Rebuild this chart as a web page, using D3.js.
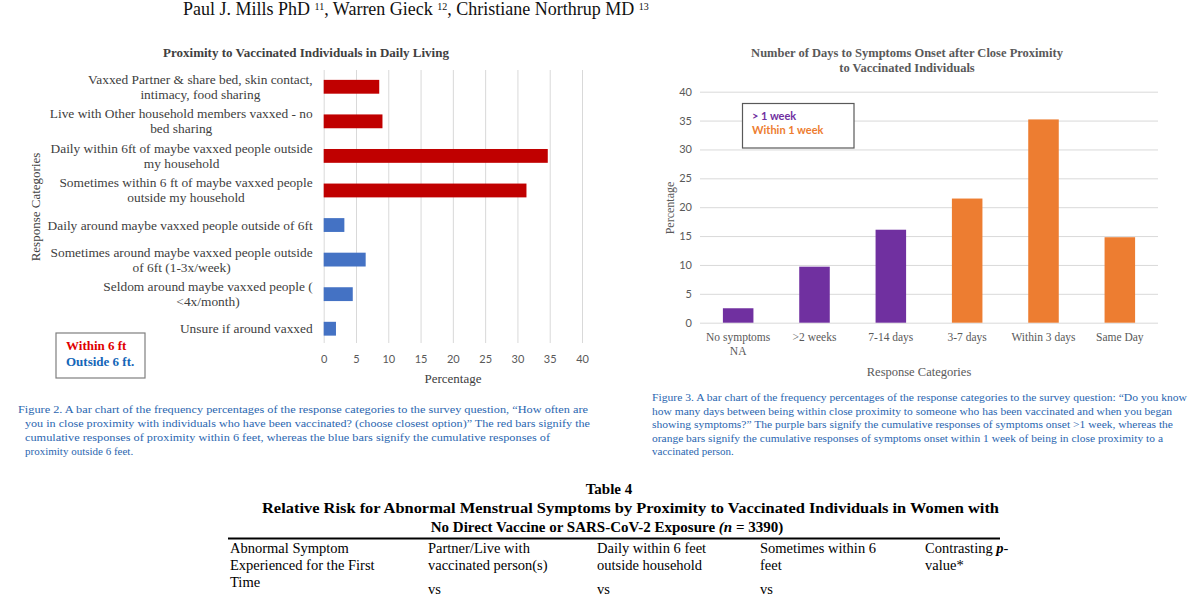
<!DOCTYPE html>
<html><head><meta charset="utf-8">
<script src="https://cdn.jsdelivr.net/npm/d3@7"></script>
<style>body{margin:0;background:#fff}svg{display:block}</style>
</head><body><svg id="c" width="1200" height="600"></svg>
<script>
// ---------- DATA ----------
const proxCategories = [
  "Vaxxed Partner & share bed, skin contact,\nintimacy, food sharing",
  "Live with Other household members vaxxed - no\nbed sharing",
  "Daily within 6ft of maybe vaxxed people outside\nmy household",
  "Sometimes within 6 ft of maybe vaxxed people\noutside my household",
  "Daily around maybe vaxxed people outside of 6ft",
  "Sometimes around maybe vaxxed people outside\nof 6ft (1-3x/week)",
  "Seldom around maybe vaxxed people (\n<4x/month)",
  "Unsure if around vaxxed"
];
const proxValues = [8.6, 9.1, 34.7, 31.4, 3.2, 6.5, 4.5, 1.9];
const proxGroups = ["within","within","within","within","outside","outside","outside","outside"];
const proxTicks = [0, 5, 10, 15, 20, 25, 30, 35, 40];

const onsetCategories = ["No symptoms\nNA", ">2 weeks", "7-14 days", "3-7 days", "Within 3 days", "Same Day"];
const onsetValues = [2.5, 9.7, 16.1, 21.5, 35.2, 14.8];
const onsetGroups = ["over","over","over","within","within","within"];
const onsetTicks = [0, 5, 10, 15, 20, 25, 30, 35, 40];

const fig2Caption = [
  "Figure 2. A bar chart of the frequency percentages of the response categories to the survey question, \u201CHow often are",
  "you in close proximity with individuals who have been vaccinated? (choose closest option)\u201D The red bars signify the",
  "cumulative responses of proximity within 6 feet, whereas the blue bars signify the cumulative responses of",
  "proximity outside 6 feet."
];
const fig3Caption = [
  "Figure 3. A bar chart of the frequency percentages of the response categories to the survey question: \u201CDo you know",
  "how many days between being within close proximity to someone who has been vaccinated and when you began",
  "showing symptoms?\u201D The purple bars signify the cumulative responses of symptoms onset >1 week, whereas the",
  "orange bars signify the cumulative responses of symptoms onset within 1 week of being in close proximity to a",
  "vaccinated person."
];
const tableHeaders = [
  ["Abnormal Symptom", "Experienced for the First", "Time"],
  ["Partner/Live with", "vaccinated person(s)"],
  ["Daily within 6 feet", "outside household"],
  ["Sometimes within 6", "feet"],
  ["Contrasting p-", "value*"]
];
const tableVs = ["", "vs", "vs", "vs", ""];

// ---------- STYLE ----------
const SERIF = "'Liberation Serif','DejaVu Serif',serif";
const SANS = "Lato,'Open Sans',sans-serif";
const grid = "#d9d9d9";
const capBlue = "#2a66b0";

const svg = d3.select("#c");
svg.append("rect").attr("width",1200).attr("height",600).attr("fill","#fff");

// ---------- author line ----------
const au = svg.append("text").attr("x",183).attr("y",15).attr("font-family",SERIF)
  .attr("font-size",18).attr("fill","#111");
["Paul J. Mills PhD ","11",", Warren Gieck ","12",", Christiane Northrup MD ","13"].forEach((p,i)=>{
  const t = au.append("tspan").text(p);
  if(i%2===1){ t.attr("font-size",10).attr("dy",-5); }
  else if(i>0){ t.attr("dy",5); }
});

// ---------- LEFT CHART ----------
const L = svg.append("g");
const xL = d3.scaleLinear().domain([0,40]).range([323.7,582]);
const yL = d3.scaleBand().domain(proxCategories).range([69.5,346]).paddingInner(0.6).paddingOuter(0.3);
const colorL = d3.scaleOrdinal().domain(["within","outside"]).range(["#c00000","#4472c4"]);

L.append("text").attr("x",306).attr("y",52).attr("text-anchor","middle").attr("dominant-baseline","central")
  .attr("font-family",SERIF).attr("font-weight","bold").attr("font-size",13).attr("fill","#404040")
  .text("Proximity to Vaccinated Individuals in Daily Living");

const axL = L.append("g").attr("transform","translate(0,343)")
  .call(d3.axisBottom(xL).tickValues(proxTicks).tickSize(-273).tickPadding(12));
axL.select(".domain").remove();
axL.selectAll(".tick line").attr("stroke",grid).attr("stroke-width",1);
axL.selectAll(".tick text").attr("font-family",SANS).attr("font-size",11).attr("fill","#595959");

L.selectAll("rect.bar").data(proxValues).join("rect").attr("class","bar")
  .attr("x",xL(0)).attr("y",(d,i)=>yL(proxCategories[i]))
  .attr("width",d=>xL(d)-xL(0)).attr("height",yL.bandwidth())
  .attr("fill",(d,i)=>colorL(proxGroups[i]));

L.selectAll("g.lab").data(proxCategories).join("g").attr("class","lab").each(function(d){
  const lines = d.split("\n");
  const cy = yL(d)+yL.bandwidth()/2;
  const sel = d3.select(this);
  const ts = lines.map((ln,j)=>sel.append("text")
    .attr("y",cy+(j-(lines.length-1)/2)*15).attr("dominant-baseline","central")
    .attr("text-anchor","middle").attr("font-family",SERIF).attr("font-size",13.4).attr("fill","#404040").text(ln));
  const maxW = d3.max(ts,t=>t.node().getComputedTextLength());
  ts.forEach(t=>t.attr("x",312.7-maxW/2));
});

L.append("text").attr("transform","translate(35,207) rotate(-90)").attr("text-anchor","middle")
  .attr("dominant-baseline","central").attr("font-family",SERIF).attr("font-size",13).attr("fill","#404040")
  .text("Response Categories");
L.append("text").attr("x",453).attr("y",378).attr("text-anchor","middle").attr("dominant-baseline","central")
  .attr("font-family",SERIF).attr("font-size",13).attr("fill","#404040").text("Percentage");

L.append("rect").attr("x",56).attr("y",333).attr("width",89).attr("height",45)
  .attr("fill","#fff").attr("stroke","#7f7f7f").attr("stroke-width",1.2);
L.append("text").attr("x",66).attr("y",345.5).attr("dominant-baseline","central").attr("font-family",SERIF)
  .attr("font-weight","bold").attr("font-size",13).attr("fill","#e00000").text("Within 6 ft");
L.append("text").attr("x",66).attr("y",361.5).attr("dominant-baseline","central").attr("font-family",SERIF)
  .attr("font-weight","bold").attr("font-size",13).attr("fill","#1466b8").text("Outside 6 ft.");

// ---------- RIGHT CHART ----------
const R = svg.append("g");
const xR = d3.scaleBand().domain(onsetCategories).range([700,1158]).paddingInner(0.6).paddingOuter(0.3);
const yR = d3.scaleLinear().domain([0,40]).range([322.7,91.7]);
const colorR = d3.scaleOrdinal().domain(["over","within"]).range(["#7030a0","#ed7d31"]);

R.append("text").attr("x",907).attr("text-anchor","middle").attr("font-family",SERIF)
  .attr("font-weight","bold").attr("font-size",12.5).attr("fill","#595959")
  .selectAll("tspan").data(["Number of Days to Symptoms Onset after Close Proximity","to Vaccinated Individuals"])
  .join("tspan").attr("x",907).attr("y",(d,i)=>57+i*15).text(d=>d);

const axR = R.append("g").attr("transform","translate(700,0)")
  .call(d3.axisLeft(yR).tickValues(onsetTicks).tickSize(-458).tickPadding(8));
axR.select(".domain").remove();
axR.selectAll(".tick line").attr("stroke",grid).attr("stroke-width",1);
axR.selectAll(".tick text").attr("font-family",SANS).attr("font-size",11).attr("fill","#595959");

R.selectAll("rect.bar").data(onsetValues).join("rect").attr("class","bar")
  .attr("x",(d,i)=>xR(onsetCategories[i])).attr("y",d=>yR(d))
  .attr("width",xR.bandwidth()).attr("height",d=>yR(0)-yR(d))
  .attr("fill",(d,i)=>colorR(onsetGroups[i]));

R.selectAll("text.cat").data(onsetCategories).join("text").attr("class","cat")
  .attr("text-anchor","middle").attr("font-family",SERIF).attr("font-size",11.5).attr("fill","#595959")
  .each(function(d){
    const cx = xR(d)+xR.bandwidth()/2;
    d3.select(this).selectAll("tspan").data(d.split("\n")).join("tspan")
      .attr("x",cx).attr("y",(l,j)=>341+j*14).text(l=>l);
  });

R.append("text").attr("transform","translate(670,208) rotate(-90)").attr("text-anchor","middle")
  .attr("dominant-baseline","central").attr("font-family",SERIF).attr("font-size",12).attr("fill","#595959")
  .text("Percentage");
R.append("text").attr("x",919).attr("y",372).attr("text-anchor","middle").attr("dominant-baseline","central")
  .attr("font-family",SERIF).attr("font-size",12.5).attr("fill","#595959").text("Response Categories");

R.append("rect").attr("x",742.5).attr("y",103.5).attr("width",111.5).attr("height",44.5)
  .attr("fill","#fff").attr("stroke","#595959").attr("stroke-width",1.2);
R.append("text").attr("x",752).attr("y",115.5).attr("dominant-baseline","central").attr("font-family",SANS)
  .attr("font-weight","bold").attr("font-size",11).attr("fill","#7030a0").text("> 1 week");
R.append("text").attr("x",752).attr("y",129.5).attr("dominant-baseline","central").attr("font-family",SANS)
  .attr("font-weight","bold").attr("font-size",11).attr("fill","#ed7d31").text("Within 1 week");

// ---------- CAPTIONS ----------
function caption(lines, xs, ends, y0, dy){
  lines.forEach((ln,i)=>{
    const t = svg.append("text").attr("x",xs[i]).attr("y",y0+i*dy).attr("font-family",SERIF)
      .attr("font-size",11).attr("fill",capBlue).text(ln);
    if(ends[i]) t.attr("textLength",ends[i]-xs[i]).attr("lengthAdjust","spacingAndGlyphs");
  });
}
caption(fig2Caption,[18,25,25,25],[588,590,550,null],413,14);
caption(fig3Caption,[652,652,652,652,652],[1187,1172,1173,1163,null],401,13.5);

// ---------- TABLE ----------
const T = svg.append("g").attr("font-family",SERIF).attr("fill","#000");
T.append("text").attr("x",609).attr("y",494).attr("text-anchor","middle").attr("font-size",15)
  .attr("font-weight","bold").text("Table 4");
T.append("text").attr("x",262).attr("y",513).attr("font-size",15).attr("font-weight","bold")
  .attr("textLength",737).attr("lengthAdjust","spacingAndGlyphs")
  .text("Relative Risk for Abnormal Menstrual Symptoms by Proximity to Vaccinated Individuals in Women with");
const t3 = T.append("text").attr("x",607).attr("y",532).attr("text-anchor","middle").attr("font-size",15).attr("font-weight","bold");
t3.append("tspan").text("No Direct Vaccine or SARS-CoV-2 Exposure ");
t3.append("tspan").attr("font-style","italic").text("(n");
t3.append("tspan").text(" = 3390)");
T.append("line").attr("x1",228).attr("x2",1000).attr("y1",538.5).attr("y2",538.5).attr("stroke","#000").attr("stroke-width",2);
const colX = [230,428,597,760,925];
tableHeaders.forEach((rows,c)=>{
  rows.forEach((r,j)=>{
    const t = T.append("text").attr("x",colX[c]).attr("y",553+j*17).attr("font-size",14.5);
    if(r.includes(" p-")){
      t.append("tspan").text("Contrasting ");
      t.append("tspan").attr("font-style","italic").attr("font-weight","bold").text("p");
      t.append("tspan").text("-");
    } else t.text(r);
  });
  if(tableVs[c]) T.append("text").attr("x",colX[c]).attr("y",594).attr("font-size",14.5).text(tableVs[c]);
});
</script></body></html>
